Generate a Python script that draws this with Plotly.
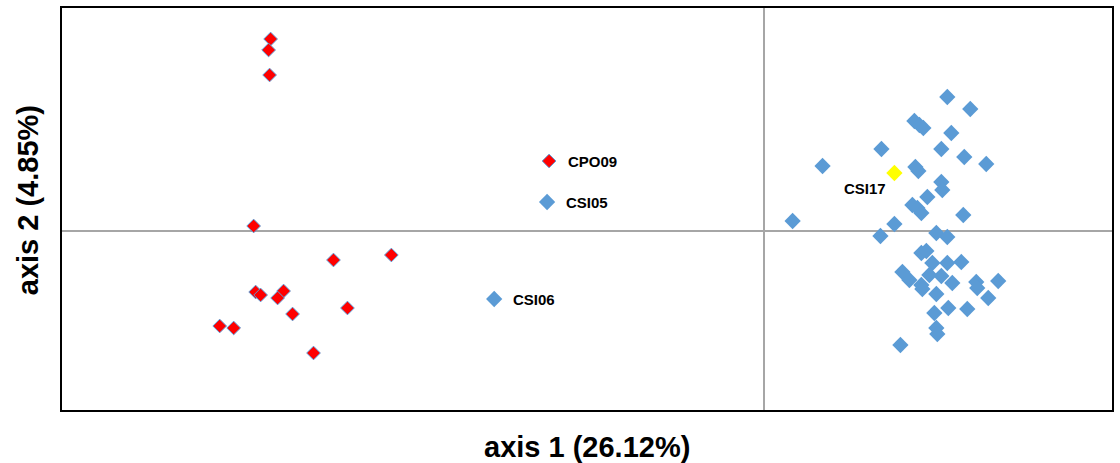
import plotly.graph_objects as go

# Group 1 (red)
red_x = [-0.494, -0.496, -0.495, -0.511, -0.431, -0.373, -0.509, -0.504, -0.481, -0.487,
         -0.472, -0.417, -0.545, -0.531, -0.451, -0.215]
red_y = [0.192, 0.181, 0.156, 0.005, -0.029, -0.024, -0.061, -0.064, -0.060, -0.067,
         -0.083, -0.077, -0.095, -0.097, -0.122, 0.070]

# Group 2 (blue)
blue_x = [-0.217, -0.270,
          0.184, 0.207, 0.151, 0.156, 0.160, 0.188, 0.118, 0.178, 0.201, 0.223, 0.059,
          0.152, 0.155, 0.178, 0.179, 0.164, 0.149, 0.154, 0.158, 0.200, 0.029, 0.131,
          0.117, 0.173, 0.184, 0.158, 0.163, 0.169, 0.184, 0.198, 0.139, 0.146, 0.166,
          0.178, 0.158, 0.159, 0.189, 0.213, 0.214, 0.235, 0.173, 0.225, 0.171, 0.185,
          0.204, 0.173, 0.174, 0.137]
blue_y = [0.029, -0.068,
          0.134, 0.122, 0.110, 0.106, 0.103, 0.098, 0.082, 0.082, 0.074, 0.067, 0.065,
          0.064, 0.060, 0.049, 0.041, 0.034, 0.026, 0.023, 0.018, 0.016, 0.010, 0.007,
          -0.005, -0.002, -0.006, -0.022, -0.020, -0.032, -0.032, -0.031, -0.041, -0.049, -0.044,
          -0.045, -0.054, -0.058, -0.052, -0.051, -0.057, -0.050, -0.063, -0.067, -0.082, -0.077,
          -0.078, -0.097, -0.103, -0.114]

# Highlighted sample (yellow)
yellow_x = [0.131]
yellow_y = [0.058]

# Labelled samples
label_names = ["CPO09", "CSI05", "CSI06", "CSI17"]
label_x = [-0.215, -0.217, -0.270, 0.131]
label_y = [0.070, 0.029, -0.068, 0.058]

x_title = "axis 1 (26.12%)"
y_title = "axis 2 (4.85%)"

BLUE = "#5B9BD5"
FONT = "Liberation Sans, Arial, sans-serif"

fig = go.Figure()
fig.add_trace(go.Scatter(x=blue_x, y=blue_y, mode="markers",
                         marker=dict(symbol="diamond", size=12.5, color=BLUE,
                                     line=dict(width=0))))
fig.add_trace(go.Scatter(x=red_x, y=red_y, mode="markers",
                         marker=dict(symbol="diamond", size=10.5, color="#FF0000",
                                     line=dict(width=1, color=BLUE))))
fig.add_trace(go.Scatter(x=yellow_x, y=yellow_y, mode="markers",
                         marker=dict(symbol="diamond", size=12.5, color="#FFFF00",
                                     line=dict(width=0))))

for name, lx, ly in zip(label_names, label_x, label_y):
    if name == "CSI17":
        fig.add_annotation(x=lx, y=ly, text=name, showarrow=False, xanchor="right",
                           yanchor="middle", xshift=-6, yshift=-15,
                           font=dict(family=FONT, size=15, color="black", weight="bold"))
    else:
        fig.add_annotation(x=lx, y=ly, text=name, showarrow=False, xanchor="left",
                           yanchor="middle", xshift=17,
                           font=dict(family=FONT, size=15, color="black", weight="bold"))

fig.add_annotation(xref="paper", yref="paper", x=0.5, y=-0.092, text=x_title,
                   showarrow=False, xanchor="center", yanchor="middle",
                   font=dict(family=FONT, size=29, color="black", weight="bold"))
fig.add_annotation(xref="paper", yref="paper", x=-0.0323, y=0.522, text=y_title,
                   showarrow=False, xanchor="center", yanchor="middle", textangle=-90,
                   font=dict(family=FONT, size=29, color="black", weight="bold"))

axis_common = dict(showgrid=False, showticklabels=False, ticks="", showline=True,
                   linecolor="black", linewidth=2, mirror=True, zeroline=True,
                   zerolinecolor="#A6A6A6", zerolinewidth=1.5, fixedrange=True)
fig.update_xaxes(range=[-0.703, 0.349], **axis_common)
fig.update_yaxes(range=[-0.179, 0.223], **axis_common)

fig.update_layout(width=1120, height=463, margin=dict(l=62, r=6, t=8, b=53),
                  paper_bgcolor="white", plot_bgcolor="white", showlegend=False,
                  font=dict(family=FONT))

fig.write_html("out.html")
